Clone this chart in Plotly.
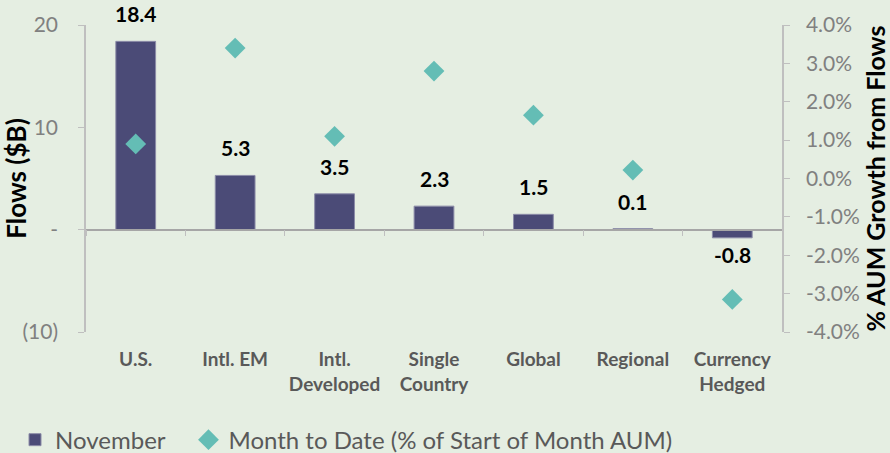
import plotly.graph_objects as go

categories = ["U.S.", "Intl. EM", "Intl.<br>Developed", "Single<br>Country", "Global", "Regional", "Currency<br>Hedged"]
flows_nov = [18.4, 5.3, 3.5, 2.3, 1.5, 0.1, -0.8]
mtd_pct = [0.9, 3.4, 1.1, 2.8, 1.65, 0.22, -3.15]
left_tickvals = [-10, 0, 10, 20]
left_ticktext = ["(10)", "-", "10", "20"]
right_tickvals = [-4, -3, -2, -1, 0, 1, 2, 3, 4]

BG = "#E5EEE2"
BAR = "#4B4B77"
DIA = "#64BDB5"
AXIS = "#BFBFBF"
TICKFONT = "#808080"
CATFONT = "#595959"
FONT = "Lato"

fig = go.Figure()
fig.add_trace(go.Bar(
    x=categories, y=flows_nov, name="November\u00a0\u00a0\u00a0",
    marker=dict(color=BAR, line=dict(width=1, color="#8C8CA8")), width=0.4,
    xaxis="x", yaxis="y",
))
fig.add_trace(go.Scatter(
    x=categories, y=mtd_pct, name="Month to Date (% of Start of Month AUM)",
    mode="markers", marker=dict(symbol="diamond", size=16, color=DIA),
    xaxis="x", yaxis="y2", cliponaxis=False,
))
# invisible helper trace for the category axis drawn at zero
fig.add_trace(go.Scatter(
    x=categories, y=[0]*len(categories), mode="markers",
    marker=dict(opacity=0), showlegend=False, hoverinfo="skip",
    xaxis="x2", yaxis="y",
))

# data labels
for c, v in zip(categories, flows_nov):
    fig.add_annotation(
        x=c, y=v, xref="x", yref="y", text=f"<b>{v:.1f}</b>", showarrow=False,
        yanchor="bottom" if v >= 0 else "top", yshift=13 if v >= 0 else -2,
        font=dict(family=FONT, size=21, color="#000000"),
    )

fig.update_layout(
    width=890, height=453,
    paper_bgcolor=BG, plot_bgcolor=BG,
    margin=dict(l=86, r=108, t=25, b=121, autoexpand=False),
    font=dict(family=FONT, color=TICKFONT),
    showlegend=True,
    legend=dict(orientation="h", x=-0.102, xanchor="left", y=-0.352, yanchor="middle",
                font=dict(size=24, color=CATFONT), itemwidth=30, tracegroupgap=0,
                bgcolor="rgba(0,0,0,0)"),
    xaxis=dict(type="category", range=[-0.5, 6.5], showline=False, showgrid=False, ticks="",
               tickfont=dict(family=FONT, size=19, color=CATFONT, weight="bold"),
               anchor="y", zeroline=False, ticklabelstandoff=14, automargin=False),
    xaxis2=dict(type="category", range=[-0.5, 6.5], overlaying="x", anchor="free", position=1/3,
                side="bottom", showline=True, linecolor="#A6A6A6", linewidth=1.5,
                ticks="outside", tickson="boundaries", ticklen=6, tickcolor="#BFBFBF",
                showticklabels=False, showgrid=False, zeroline=False, automargin=False),
    yaxis=dict(range=[-10, 20], tickvals=left_tickvals, ticktext=left_ticktext,
               showline=True, linecolor=AXIS, linewidth=1.5, ticks="outside", ticklen=6,
               tickcolor=AXIS, showgrid=False, zeroline=False, automargin=False,
               tickfont=dict(family=FONT, size=21, color=TICKFONT), ticklabelstandoff=16,
               title=dict(text="Flows ($B)", font=dict(family=FONT, size=26, color="#000000", weight="bold"),
                          standoff=6)),
    yaxis2=dict(range=[-4, 4], tickvals=right_tickvals,
                ticktext=[f"{v:.1f}%" for v in right_tickvals],
                overlaying="y", side="right", anchor="x", automargin=False,
                showline=True, linecolor=AXIS, linewidth=1.5, ticks="outside", ticklen=6,
                tickcolor=AXIS, showgrid=False, zeroline=False,
                tickfont=dict(family=FONT, size=21, color=TICKFONT), ticklabelstandoff=12,
                title=dict(text="% AUM Growth from Flows",
                           font=dict(family=FONT, size=25, color="#000000", weight="bold"),
                           standoff=6)),
)

fig.write_html("out.html", config={"displayModeBar": False},
               post_script="document.body.style.margin='0';document.body.style.overflow='hidden';")
